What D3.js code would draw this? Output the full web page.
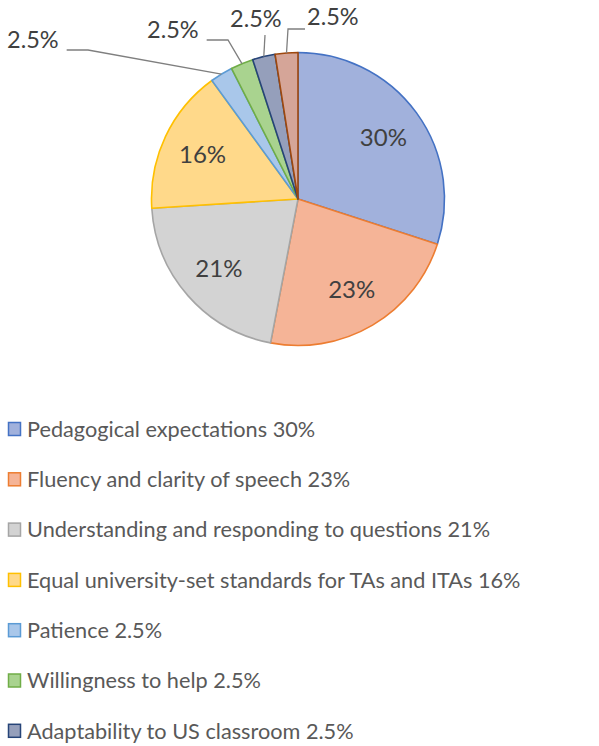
<!DOCTYPE html>
<html>
<head>
<meta charset="utf-8">
<script src="https://cdn.jsdelivr.net/npm/d3@7"></script>
<style>
  body { margin: 0; background: #fff; }
  svg { display: block; }
  text { font-family: "Lato", "Liberation Sans", sans-serif; }
</style>
</head>
<body>
<script>
//Chart data (the eighth slice has no legend row visible in the figure)
var categories = [
    "Pedagogical expectations",
    "Fluency and clarity of speech",
    "Understanding and responding to questions",
    "Equal university-set standards for TAs and ITAs",
    "Patience",
    "Willingness to help",
    "Adaptability to US classroom"
];
var values = [30, 23, 21, 16, 2.5, 2.5, 2.5, 2.5];
var pctLabels = ["30%", "23%", "21%", "16%", "2.5%", "2.5%", "2.5%", "2.5%"];
var legendLabels = ["30%", "23%", "21%", "16%", "2.5%", "2.5%", "2.5%"];

//Colours (fill and outline for each slice)
var fills = ["#a1b1dc", "#f5b497", "#d3d3d3", "#ffd98a", "#a9c7ea", "#a9d38f", "#959fbb", "#d5a598"];
var strokes = ["#4472c4", "#ed7d31", "#a5a5a5", "#ffc000", "#5b9bd5", "#70ad47", "#264478", "#9e480e"];

//Layout
var width = 599, height = 746;
var cx = 298, cy = 199, radius = 146.5;

//Outside label anchors for the thin slices (text x, baseline y, elbow x, elbow y)
var outsideLabels = {
    4: {tx: 7, ty: 48, ex: 88, ey: 50},
    5: {tx: 147, ty: 38, ex: 228, ey: 40},
    6: {tx: 230, ty: 27, ex: 265, ey: 35},
    7: {tx: 307, ty: 25, ex: 288, ey: 29}
};

const svg = d3.select("body")
    .append("svg")
    .attr("width", width)
    .attr("height", height);

const pie = d3.pie().sort(null).value(d => d);
const arcs = pie(values);

const arc = d3.arc().innerRadius(0).outerRadius(radius);
const labelArc = d3.arc().innerRadius(radius * 0.72).outerRadius(radius * 0.72);

const g = svg.append("g").attr("transform", `translate(${cx},${cy})`);

//Slices
g.selectAll("path.slice")
    .data(arcs)
    .join("path")
    .attr("class", "slice")
    .attr("d", arc)
    .attr("fill", (d, i) => fills[i])
    .attr("stroke", (d, i) => strokes[i])
    .attr("stroke-width", 1.6)
    .attr("stroke-linejoin", "round");

//Inside labels for the big slices
g.selectAll("text.inside")
    .data(arcs.filter((d, i) => !outsideLabels[i]))
    .join("text")
    .attr("class", "inside")
    .attr("transform", d => `translate(${labelArc.centroid(d)})`)
    .attr("text-anchor", "middle")
    .attr("dy", "0.36em")
    .attr("font-size", 24)
    .attr("fill", "#404040")
    .text(d => pctLabels[d.index]);

//Outside labels with leader lines
arcs.forEach(function(d, i) {
    var o = outsideLabels[i];
    if (!o) return;
    var mid = (d.startAngle + d.endAngle) / 2;
    var px = cx + radius * Math.sin(mid);
    var py = cy - radius * Math.cos(mid);
    var t = svg.append("text")
        .attr("x", o.tx)
        .attr("y", o.ty)
        .attr("font-size", 23.5)
        .attr("fill", "#404040")
        .text(pctLabels[i]);
    var startX = i === 7 ? o.tx - 2 : o.tx + t.node().getComputedTextLength() + 8;
    var startY = o.ey;
    var pts = i === 6 ? [[o.ex, o.ey], [px, py]] : [[startX, startY], [o.ex, o.ey], [px, py]];
    svg.append("path")
        .attr("d", d3.line()(pts))
        .attr("fill", "none")
        .attr("stroke", "#7f7f7f")
        .attr("stroke-width", 1.3);
});

//Legend
const legend = svg.append("g").attr("transform", "translate(8, 429)");
const rowH = 50.3;
const items = legend.selectAll("g")
    .data(categories)
    .join("g")
    .attr("transform", (d, i) => `translate(0, ${i * rowH})`);

items.append("rect")
    .attr("x", 0.5)
    .attr("y", -6.5)
    .attr("width", 12)
    .attr("height", 13)
    .attr("fill", (d, i) => fills[i])
    .attr("stroke", (d, i) => strokes[i])
    .attr("stroke-width", 1.5);

items.append("text")
    .attr("x", 19)
    .attr("dy", "0.36em")
    .attr("font-size", 21.7)
    .attr("fill", "#595959")
    .text((d, i) => d + " " + legendLabels[i]);
</script>
</body>
</html>
